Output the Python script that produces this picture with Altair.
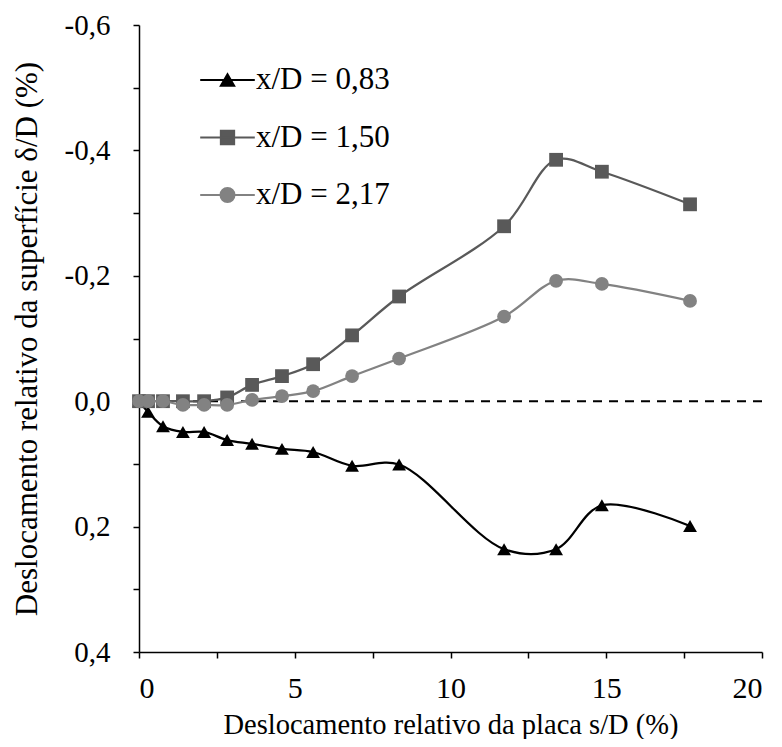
import altair as alt
import pandas as pd

# ---- data ----
x_vals = [0, 0.29, 0.77, 1.41, 2.09, 2.83, 3.63, 4.59, 5.59, 6.84, 8.35, 11.72, 13.39, 14.86, 17.69]
series_names = ["x/D = 0,83", "x/D = 1,50", "x/D = 2,17"]
y_083 = [0, 0.017, 0.040, 0.049, 0.049, 0.062, 0.068, 0.076, 0.081, 0.103, 0.101, 0.236, 0.236, 0.166, 0.199]
y_150 = [0, 0, 0, 0, 0, -0.006, -0.026, -0.040, -0.059, -0.105, -0.167, -0.279, -0.385, -0.366, -0.314]
y_217 = [0, 0, 0, 0.006, 0.006, 0.006, -0.002, -0.008, -0.016, -0.040, -0.068, -0.135, -0.192, -0.187, -0.160]
series_colors = ["#000000", "#595959", "#828282"]
series_shapes = ["triangle-up", "square", "circle"]
legend_paths = [
    "M-3.9,0H3.9M0,-0.82L0.95,0.82L-0.95,0.82Z",
    "M-3.9,0H3.9M-0.95,-0.95H0.95V0.95H-0.95Z",
    "M-3.9,0H3.9M1,0A1,1,0,1,1,-1,0A1,1,0,1,1,1,0Z",
]
y_ticks = [-0.6, -0.5, -0.4, -0.3, -0.2, -0.1, 0.0, 0.1, 0.2, 0.3, 0.4]
x_ticks = [0, 2.5, 5, 7.5, 10, 12.5, 15, 17.5, 20]
zero_line = [0.0]

FONT = "Liberation Serif"

x_scale = alt.Scale(domain=[0, 20], nice=False, zero=False)
y_scale = alt.Scale(domain=[-0.6, 0.4], reverse=True, nice=False, zero=False)

x_axis = alt.Axis(
    values=x_ticks,
    labelExpr="datum.value % 5 == 0 ? format(datum.value, 'd') : ''",
    tickSize=6,
    labelPadding=15,
    titlePadding=7,
    labelFontSize=30,
    titleFontSize=28.5,
)
y_axis = alt.Axis(
    values=y_ticks,
    labelExpr=(
        "abs(round(datum.value*10)) % 2 == 0 ? "
        "replace(replace(format(datum.value, '.1f'), '.', ','), '\u2212', '-') : ''"
    ),
    tickSize=6,
    labelPadding=23,
    titlePadding=21,
    labelFontSize=29,
    titleFontSize=31,
)

rule = alt.Chart(pd.DataFrame({"ref": zero_line})).mark_rule(
    color="black", strokeDash=[9, 7], strokeWidth=2
).encode(
    y=alt.Y("ref:Q", scale=y_scale, axis=y_axis,
            title="Deslocamento relativo da superfície δ/D (%)"),
)

layers = [rule]
for k, (name, ys) in enumerate(zip(series_names, [y_083, y_150, y_217])):
    d = pd.DataFrame({"s": x_vals, "d": ys, "serie": [name] * len(x_vals),
                      "ordem": list(range(len(x_vals)))})
    xe = alt.X("s:Q", scale=x_scale, axis=x_axis,
               title="Deslocamento relativo da placa s/D (%)")
    ye = alt.Y("d:Q", scale=y_scale, axis=y_axis,
               title="Deslocamento relativo da superfície δ/D (%)")
    line = alt.Chart(d).mark_line(
        interpolate="catmull-rom", strokeWidth=2.25, color=series_colors[k]
    ).encode(x=xe, y=ye, order="ordem:Q")
    pts = alt.Chart(d).mark_point(
        filled=True, size=190, opacity=1, shape=series_shapes[k]
    ).encode(
        x=xe,
        y=ye,
        color=alt.Color(
            "serie:N",
            scale=alt.Scale(domain=[name], range=[series_colors[k]]),
            legend=alt.Legend(
                title=None,
                orient="none",
                legendX=73,
                legendY=39.5 + 57.5 * k,
                padding=0,
                labelOffset=13,
                labelFont=FONT,
                labelFontSize=31,
                labelColor="black",
                labelLimit=400,
                symbolSize=196,
                symbolType=legend_paths[k],
                symbolFillColor=series_colors[k],
                symbolStrokeColor=series_colors[k],
                symbolStrokeWidth=2,
                symbolOpacity=1,
            ),
        ),
    )
    layers += [line, pts]

chart = (
    alt.layer(*layers)
    .resolve_scale(color="independent")
    .resolve_legend(color="independent")
    .properties(
        width=623,
        height=627,
        autosize=alt.AutoSizeParams(type="none"),
        padding={"left": 131, "top": 17, "right": 12, "bottom": 87},
    )
    .configure_view(stroke=None)
    .configure_axis(
        grid=False,
        domainColor="black",
        domainWidth=1.5,
        tickColor="black",
        tickWidth=1.5,
        labelFont=FONT,
        labelColor="black",
        titleFont=FONT,
        titleFontWeight="normal",
        titleColor="black",
    )
)

chart.save("out.html", embed_options={"renderer": "svg", "actions": False})
